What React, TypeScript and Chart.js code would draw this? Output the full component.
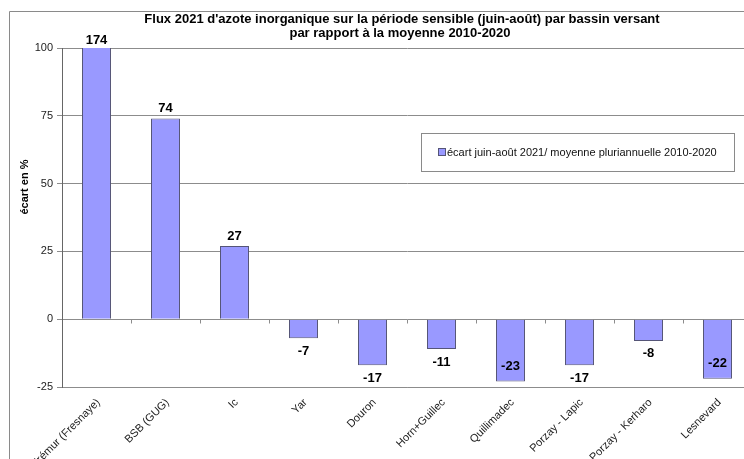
import React, { useEffect, useRef } from "react";
import { Chart, registerables } from "chart.js";

Chart.register(...registerables);

const categories = [
  "Frémur (Fresnaye)",
  "BSB (GUG)",
  "Ic",
  "Yar",
  "Douron",
  "Horn+Guillec",
  "Quillimadec",
  "Porzay - Lapic",
  "Porzay - Kerharo",
  "Lesnevard",
];
const ecart = [174, 74, 27, -7, -17, -11, -23, -17, -8, -22];
const yTicks = [-25, 0, 25, 50, 75, 100];
const titleLines = [
  "Flux 2021 d'azote inorganique sur la période sensible (juin-août) par bassin versant",
  "par rapport à la moyenne 2010-2020",
];
const yTitle = "écart en %";
const legendLabel = "écart juin-août 2021/ moyenne pluriannuelle 2010-2020";

const BAR_FILL = "#9999ff";
const BAR_EDGE = "#555577";
const GRID = "#8c8c8c";

const decor = {
  id: "decor",
  beforeDraw(chart: any) {
    const { ctx } = chart;
    ctx.save();
    ctx.fillStyle = "#ffffff";
    ctx.fillRect(0, 0, chart.width, chart.height);
    ctx.strokeStyle = "#8a8a8a";
    ctx.lineWidth = 1;
    ctx.beginPath();
    ctx.moveTo(9.5, 470);
    ctx.lineTo(9.5, 11.5);
    ctx.lineTo(chart.width, 11.5);
    ctx.stroke();
    ctx.restore();
  },
  afterDatasetsDraw(chart: any) {
    const { ctx, chartArea } = chart;
    const meta = chart.getDatasetMeta(0);
    const yScale = chart.scales.y;
    const xScale = chart.scales.x;
    ctx.save();
    // category ticks on the zero line
    const y0 = Math.round(yScale.getPixelForValue(0)) + 0.5;
    ctx.strokeStyle = GRID;
    ctx.lineWidth = 1;
    const step = (xScale.right - xScale.left) / categories.length;
    ctx.beginPath();
    for (let i = 1; i < categories.length; i++) {
      const x = Math.round(xScale.left + step * i) + 0.5;
      ctx.moveTo(x, y0);
      ctx.lineTo(x, y0 + 4);
    }
    ctx.stroke();
    // value labels
    ctx.fillStyle = "#000";
    ctx.font = "bold 13px 'Liberation Sans', Arial, sans-serif";
    ctx.textAlign = "center";
    ctx.textBaseline = "middle";
    meta.data.forEach((el: any, i: number) => {
      const v = ecart[i];
      let ty;
      if (v >= 0) {
        if (el.y < chartArea.top) ty = chartArea.top - 8;
        else ty = el.y - 10;
      } else {
        const bottom = el.y;
        if (bottom + 20 > chartArea.bottom) ty = bottom - 15;
        else ty = bottom + 13;
      }
      ctx.fillText(String(v), el.x, ty);
    });
    ctx.restore();
  },
  afterDraw(chart: any) {
    const { ctx } = chart;
    ctx.save();
    // title
    ctx.fillStyle = "#000";
    ctx.textAlign = "center";
    ctx.textBaseline = "middle";
    ctx.font = "bold 13px 'Liberation Sans', Arial, sans-serif";
    ctx.fillText(titleLines[0], 402, 19);
    ctx.fillText(titleLines[1], 400, 33);
    // y title
    ctx.save();
    ctx.translate(25, 187);
    ctx.rotate(-Math.PI / 2);
    ctx.font = "bold 11px 'Liberation Sans', Arial, sans-serif";
    ctx.fillText(yTitle, 0, 0);
    ctx.restore();
    // legend
    ctx.fillStyle = "#fff";
    ctx.fillRect(421.5, 133.5, 313, 38);
    ctx.strokeStyle = "#8a8a8a";
    ctx.lineWidth = 1;
    ctx.strokeRect(421.5, 133.5, 313, 38);
    ctx.fillStyle = BAR_FILL;
    ctx.fillRect(438.5, 148.5, 7, 7);
    ctx.strokeStyle = BAR_EDGE;
    ctx.strokeRect(438.5, 148.5, 7, 7);
    ctx.fillStyle = "#111";
    ctx.textAlign = "left";
    ctx.font = "11px 'Liberation Sans', Arial, sans-serif";
    ctx.fillText(legendLabel, 447, 153);
    ctx.restore();
  },
};

export default function App() {
  const ref = useRef<HTMLCanvasElement | null>(null);
  useEffect(() => {
    if (!ref.current) return;
    const chart = new Chart(ref.current, {
      type: "bar",
      data: {
        labels: categories,
        datasets: [
          {
            label: legendLabel,
            data: ecart,
            backgroundColor: BAR_FILL,
            borderColor: BAR_EDGE,
            borderWidth: 1,
            barPercentage: 0.42,
            categoryPercentage: 1,
          },
        ],
      },
      options: {
        animation: false,
        responsive: false,
        maintainAspectRatio: false,
        devicePixelRatio: 1,
        layout: { padding: { top: 48, left: 0, right: 18, bottom: 0 } },
        plugins: {
          legend: { display: false },
          title: { display: false },
          tooltip: { enabled: false },
        },
        scales: {
          x: {
            grid: { display: false },
            border: { display: true, color: GRID },
            ticks: {
              minRotation: 45,
              maxRotation: 45,
              autoSkip: false,
              padding: 1,
              labelOffset: 2,
              color: "#222",
              font: { family: "'Liberation Sans', Arial, sans-serif", size: 11 },
            },
            afterFit: (s: any) => {
              s.height = 72;
            },
          },
          y: {
            min: -25,
            max: 100,
            afterBuildTicks: (s: any) => {
              s.ticks = yTicks.map((v) => ({ value: v }));
            },
            grid: { color: GRID, tickLength: 5, lineWidth: 1 },
            border: { display: true, color: "#666" },
            ticks: {
              color: "#222",
              padding: 4,
              font: { family: "'Liberation Sans', Arial, sans-serif", size: 11 },
            },
            afterFit: (s: any) => {
              s.width = 62;
            },
          },
        },
      },
      plugins: [decor],
    });
    return () => chart.destroy();
  }, []);
  return (
    <div
      style={{
        position: "fixed",
        left: 0,
        top: 0,
        width: 744,
        height: 459,
        overflow: "hidden",
        background: "#fff",
      }}
    >
      <canvas ref={ref} width={770} height={459} style={{ display: "block" }} />
    </div>
  );
}
